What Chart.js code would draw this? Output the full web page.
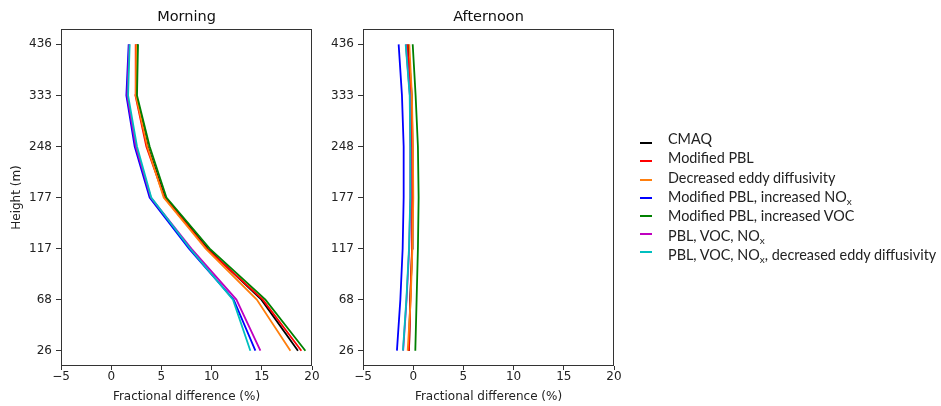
<!DOCTYPE html>
<html>
<head>
<meta charset="utf-8">
<script src="https://cdn.jsdelivr.net/npm/chart.js@4/dist/chart.umd.min.js"></script>
<style>
  body { margin: 0; background: #fff; width: 941px; height: 406px; position: relative; overflow: hidden; }
  canvas { position: absolute; top: 0; }
  #legend { position: absolute; left: 636px; top: 0; font-family: Lato, sans-serif; font-size: 14.4px; color: #222; }
  #legend .swatch { position: absolute; left: 4px; width: 12px; height: 2px; }
  #legend .label { position: absolute; left: 32px; white-space: nowrap; line-height: 18px; }
  #legend sub { font-size: 10px; vertical-align: -3px; line-height: 0; }
</style>
</head>
<body>
<canvas id="morningChart" width="330" height="406" style="left:0"></canvas>
<canvas id="afternoonChart" width="320" height="406" style="left:320px"></canvas>
<div id="legend"></div>
<script>
/////////////////////////////// DATA ///////////////////////////////
// heights (m), bottom to top
const heights = ["26", "68", "117", "177", "248", "333", "436"];

const seriesNames = [
    "CMAQ",
    "Modified PBL",
    "Decreased eddy diffusivity",
    "Modified PBL, increased NO<sub>x</sub>",
    "Modified PBL, increased VOC",
    "PBL, VOC, NO<sub>x</sub>",
    "PBL, VOC, NO<sub>x</sub>, decreased eddy diffusivity"
];
const seriesColors = ["#000000", "#ff0000", "#ff7f0e", "#0000ff", "#008000", "#bf00bf", "#00bfbf"];

// fractional difference (%) per height, Morning
const morningCmaq    = [18.6, 14.96, 9.6, 5.35, 3.65, 2.5, 2.6];
const morningPbl     = [18.94, 15.1, 9.5, 5.3, 3.5, 2.41, 2.44];
const morningEddy    = [17.85, 14.5, 9.41, 5.23, 3.6, 2.45, 2.5];
const morningNox     = [14.36, 12.2, 7.75, 3.83, 2.34, 1.51, 1.74];
const morningVoc     = [19.34, 15.36, 9.81, 5.5, 3.83, 2.57, 2.67];
const morningAll     = [14.86, 12.47, 7.98, 3.95, 2.45, 1.6, 1.8];
const morningAllEddy = [13.86, 12.13, 7.85, 3.99, 2.57, 1.68, 1.84];

// fractional difference (%) per height, Afternoon
const afternoonCmaq    = [-0.42, -0.3, -0.1, -0.05, -0.08, -0.15, -0.5];
const afternoonPbl     = [-0.42, -0.28, -0.12, -0.09, -0.12, -0.19, -0.62];
const afternoonEddy    = [-0.55, -0.25, -0.08, 0.01, -0.03, -0.13, -0.39];
const afternoonNox     = [-1.62, -1.28, -1.05, -0.95, -0.95, -1.12, -1.45];
const afternoonVoc     = [0.21, 0.34, 0.47, 0.54, 0.47, 0.24, -0.05];
const afternoonAll     = [-1.0, -0.66, -0.4, -0.28, -0.28, -0.33, -0.73];
const afternoonAllEddy = [-1.02, -0.68, -0.42, -0.29, -0.29, -0.35, -0.75];

const xTicks = [-5, 0, 5, 10, 15, 20];

/////////////////////////////// SETUP ///////////////////////////////
Chart.defaults.font.family = "'DejaVu Sans', sans-serif";
Chart.defaults.font.size = 12;
Chart.defaults.color = "#222";

// matplotlib-style box around the plot area
const framePlugin = {
    id: "frame",
    afterDatasetsDraw(chart) {
        const a = chart.chartArea;
        const ctx = chart.ctx;
        ctx.save();
        ctx.strokeStyle = "#333";
        ctx.lineWidth = 1;
        ctx.strokeRect(Math.round(a.left) + 0.5, Math.round(a.top) + 0.5,
            Math.round(a.right - a.left) - 1, Math.round(a.bottom - a.top) - 1);
        ctx.restore();
    }
};

function buildDatasets(seriesList) {
    return seriesList.map((values, i) => ({
        label: seriesNames[i],
        data: values.map((v, j) => ({ x: v, y: j })),
        borderColor: seriesColors[i],
        backgroundColor: seriesColors[i],
        borderWidth: 1.8,
        showLine: true,
        pointRadius: 0,
        fill: false,
        order: seriesList.length - i
    }));
}

function makeChart(canvasId, title, seriesList, yAxisWidth, rightPad, showYTitle) {
    const ctx = document.getElementById(canvasId).getContext("2d");
    return new Chart(ctx, {
        type: "scatter",
        data: { datasets: buildDatasets(seriesList) },
        options: {
            responsive: false,
            animation: false,
            devicePixelRatio: 1,
            layout: { padding: { top: 0, left: 0, right: rightPad, bottom: 0 } },
            plugins: {
                legend: { display: false },
                tooltip: { enabled: false },
                title: {
                    display: true,
                    text: title,
                    fullSize: false,
                    color: "#111",
                    font: { size: 14.5, weight: "normal", lineHeight: "16px" },
                    padding: { top: 9, bottom: 4 }
                }
            },
            scales: {
                x: {
                    type: "linear",
                    min: -5,
                    max: 20,
                    afterBuildTicks: (scale) => { scale.ticks = xTicks.map(v => ({ value: v })); },
                    ticks: {
                        padding: 0,
                        maxRotation: 0,
                        callback: (v) => (v < 0 ? "\u2212" + Math.abs(v) : String(v))
                    },
                    grid: { display: true, drawOnChartArea: false, drawTicks: true, tickLength: 4, color: "#333" },
                    border: { display: false },
                    title: {
                        display: true,
                        text: "Fractional difference (%)",
                        font: { size: 12 },
                        padding: { top: 0, bottom: 2 }
                    },
                    afterFit: (scale) => { scale.height = 40; }
                },
                y: {
                    type: "linear",
                    min: -0.3,
                    max: 6.3,
                    afterBuildTicks: (scale) => { scale.ticks = heights.map((h, i) => ({ value: i })); },
                    ticks: {
                        padding: 4,
                        callback: (v) => heights[v]
                    },
                    grid: { display: true, drawOnChartArea: false, drawTicks: true, tickLength: 5, color: "#333" },
                    border: { display: false },
                    title: {
                        display: showYTitle,
                        text: "Height (m)",
                        font: { size: 12 },
                        padding: { top: 10, bottom: 0 }
                    },
                    afterFit: (scale) => { scale.width = yAxisWidth; }
                }
            }
        },
        plugins: [framePlugin]
    });
}

/////////////////////////////// CREATE CHARTS ///////////////////////////////
const morningChart = makeChart("morningChart", "Morning",
    [morningCmaq, morningPbl, morningEddy, morningNox, morningVoc, morningAll, morningAllEddy],
    61, 18, true);

const afternoonChart = makeChart("afternoonChart", "Afternoon",
    [afternoonCmaq, afternoonPbl, afternoonEddy, afternoonNox, afternoonVoc, afternoonAll, afternoonAllEddy],
    43, 26, false);

/////////////////////////////// LEGEND ///////////////////////////////
// text rows and line swatches are spaced slightly differently in the original
const legendEl = document.getElementById("legend");
seriesNames.forEach((name, i) => {
    const sw = document.createElement("span");
    sw.className = "swatch";
    sw.style.background = seriesColors[i];
    sw.style.top = (142.3 + i * 18.1) + "px";
    legendEl.appendChild(sw);

    const lb = document.createElement("span");
    lb.className = "label";
    lb.style.top = (130 + i * 19.3) + "px";
    lb.innerHTML = name;
    legendEl.appendChild(lb);
});
</script>
</body>
</html>
